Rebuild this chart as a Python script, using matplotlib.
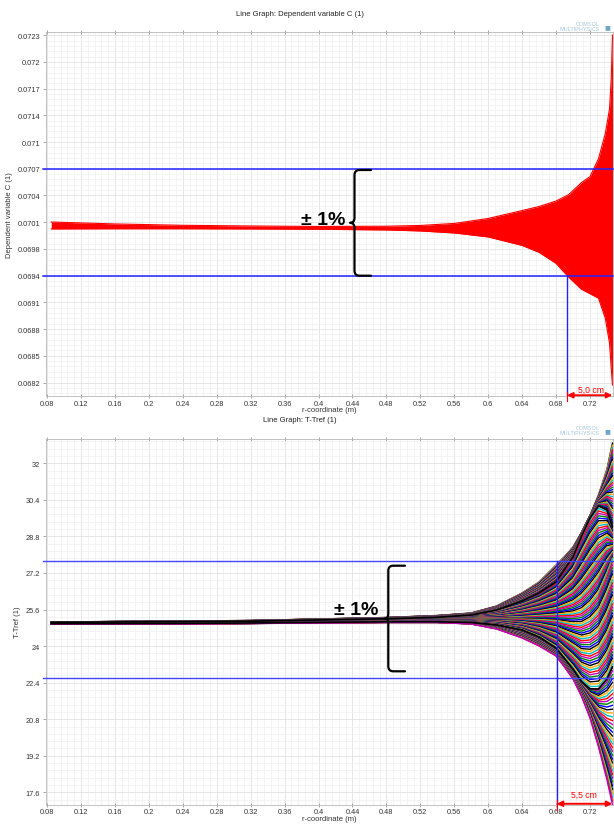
import numpy as np
import matplotlib
matplotlib.use("Agg")
import matplotlib.pyplot as plt
from matplotlib.path import Path
from matplotlib.patches import PathPatch
from matplotlib.ticker import FixedLocator, AutoMinorLocator
import matplotlib.transforms as mtransforms

W, H = 614, 828

# shared x axis
x_ticks = [0.08, 0.12, 0.16, 0.2, 0.24, 0.28, 0.32, 0.36, 0.4, 0.44, 0.48, 0.52, 0.56, 0.6, 0.64, 0.68, 0.72]
x_lim = (0.0782, 0.7471)

# top panel: envelope of the red bundle of C(r) curves
r_c = [0.085, 0.16, 0.24, 0.32, 0.40, 0.48, 0.52, 0.56, 0.60, 0.64, 0.66, 0.68, 0.695, 0.71,
       0.72, 0.73, 0.738, 0.743, 0.745, 0.7465]
c_upper = [0.070084, 0.070061, 0.070045, 0.070037, 0.070031, 0.070034, 0.070043, 0.070067,
           0.070126, 0.070220, 0.070268, 0.070333, 0.070410, 0.070552, 0.070623, 0.070835,
           0.071131, 0.071427, 0.071782, 0.072302]
c_lower = [0.070002, 0.070004, 0.070004, 0.070002, 0.069998, 0.069990, 0.069978, 0.069954,
           0.069907, 0.069806, 0.069724, 0.069593, 0.069428, 0.069286, 0.069233, 0.069180,
           0.068943, 0.068647, 0.068352, 0.068150]
c_tick_labels = ["0.0682", "0.0685", "0.0688", "0.0691", "0.0694", "0.0698", "0.0701",
                 "0.0704", "0.0707", "0.071", "0.0714", "0.0717", "0.072", "0.0723"]
c_tick_values = np.linspace(0.06818, 0.07230, len(c_tick_labels))
c_lim = (0.068020, 0.072338)
c_band = (0.069448, 0.070715)
c_cut_r = 0.6929

# bottom panel: T-Tref, key curves of the sweep bundle
r_t = [0.085, 0.16, 0.24, 0.32, 0.40, 0.48, 0.54, 0.58, 0.61, 0.64, 0.66, 0.68, 0.69,
       0.70, 0.71, 0.72, 0.73, 0.74, 0.7465]
t_upper = [25.055, 25.076, 25.098, 25.120, 25.186, 25.252, 25.339, 25.448, 25.755, 26.324,
           26.805, 27.549, 27.92, 28.337, 28.98, 29.72, 30.613, 31.750, 32.888]
t_arc_hi = [25.041, 25.055, 25.072, 25.090, 25.142, 25.195, 25.260, 25.361, 25.580, 25.974,
            26.324, 26.805, 27.35, 27.899, 28.80, 29.60, 30.131, 29.956, 29.212]
t_mid = [25.011, 25.020, 25.033, 25.055, 25.098, 25.142, 25.186, 25.208, 25.230, 25.273,
         25.317, 25.361, 25.38, 25.405, 25.50, 25.80, 26.280, 27.155, 27.812]
t_arc_lo = [24.980, 24.985, 24.993, 25.011, 25.037, 25.063, 25.063, 25.033, 24.923, 24.704,
            24.398, 23.917, 23.45, 22.998, 22.45, 22.13, 22.122, 22.560, 23.085]
t_lower = [24.967, 24.967, 24.967, 24.989, 25.011, 25.033, 25.033, 24.967, 24.748, 24.354,
           24.004, 23.567, 23.08, 22.560, 21.80, 20.85, 19.584, 18.140, 17.046]
t_tick_values = [17.6, 19.2, 20.8, 22.4, 24, 25.6, 27.2, 28.8, 30.4, 32]
t_lim = (17.068, 33.063)
t_band = (22.60, 27.71)
t_cut_r = 0.6808

comsol_colors = ["k", "#ffb000", "c", "r", "m", "g", "b"]
plt.rcParams["font.family"] = ["Liberation Sans", "DejaVu Sans"]


def px(x, y):
    """Pixel position (top-left origin) to figure fraction."""
    return x / W, 1 - y / H


def style_axes(ax, yticks, ylabels, ylim, ylabel):
    ax.set_xlim(*x_lim)
    ax.set_ylim(*ylim)
    ax.xaxis.set_major_locator(FixedLocator(x_ticks))
    ax.set_xticklabels([f"{v:g}" for v in x_ticks])
    ax.yaxis.set_major_locator(FixedLocator(yticks))
    ax.set_yticklabels(ylabels)
    ax.xaxis.set_minor_locator(AutoMinorLocator(5))
    ax.yaxis.set_minor_locator(AutoMinorLocator(5))
    ax.grid(which="major", color="#e2e2e2", lw=0.6)
    ax.grid(which="minor", color="#f0f0f0", lw=0.5)
    ax.set_axisbelow(True)
    ax.tick_params(which="major", length=2.5, width=0.6, color="#999999",
                   labelsize=5.3, labelcolor="#333333", pad=1.5)
    ax.tick_params(axis="x", which="major", top=True, direction="inout")
    ax.tick_params(which="minor", length=0)
    for s in ax.spines.values():
        s.set_color("#b8b8b8")
        s.set_linewidth(0.6)
    ax.set_xlabel("r-coordinate (m)", fontsize=5.5, color="#333333", labelpad=-0.5)
    ax.set_ylabel(ylabel, fontsize=5.5, color="#333333", labelpad=3)


def brace(fig, xv, xh, xtip, ytop, ybot, rad=5):
    ymid = (ytop + ybot) / 2
    pts = [(xh, ytop), (xv + rad, ytop), (xv, ytop), (xv, ytop + rad), (xv, ymid - rad),
           (xv, ymid), (xtip, ymid), (xv, ymid), (xv, ymid + rad), (xv, ybot - rad),
           (xv, ybot), (xv + rad, ybot), (xh, ybot)]
    codes = [Path.MOVETO, Path.LINETO, Path.CURVE3, Path.CURVE3, Path.LINETO, Path.CURVE3,
             Path.CURVE3, Path.CURVE3, Path.CURVE3, Path.LINETO, Path.CURVE3, Path.CURVE3,
             Path.LINETO]
    verts = [px(x, y) for x, y in pts]
    fig.add_artist(PathPatch(Path(verts, codes), transform=fig.transFigure, fill=False,
                             lw=1.6, edgecolor="k", capstyle="round", joinstyle="round"))


def distance_marker(ax, cut_r, band_low, label, text_r, text_y):
    trans = mtransforms.blended_transform_factory(ax.transData, ax.transAxes)
    ax.plot([cut_r, cut_r], [ax.get_ylim()[0], band_low], color="#2222ff", lw=1.0, zorder=5)
    ax.plot([cut_r, cut_r], [-0.015, 0.012], color="red", lw=0.8, transform=trans,
            clip_on=False, zorder=6)
    ax.annotate("", xy=(cut_r, 0.002), xytext=(x_lim[1] - 0.0008, 0.002),
                xycoords=trans, textcoords=trans, annotation_clip=False,
                arrowprops=dict(arrowstyle="<|-|>", color="red", lw=1.4,
                                mutation_scale=8, shrinkA=0, shrinkB=0), zorder=6)
    ax.text(text_r, text_y, label, transform=trans, color="red", fontsize=6.2,
            ha="center", va="center", zorder=6)


def logo(fig, y):
    fig.text(*px(600, y), "COMSOL\nMULTIPHYSICS", fontsize=4.0, color="#a9c8de",
             ha="right", va="center", linespacing=1.0)
    fig.text(*px(607, y), "\u25a0", fontsize=7, color="#6fa7cc", ha="center", va="center")


fig = plt.figure(figsize=(W / 100, H / 100), dpi=100)
ax1 = fig.add_axes([45.5 / W, 1 - 397 / H, (613 - 45.5) / W, 364 / H])
ax2 = fig.add_axes([45.5 / W, 1 - 805.5 / H, (613 - 45.5) / W, 365.5 / H])

# ---- top panel
style_axes(ax1, c_tick_values, c_tick_labels, c_lim, "Dependent variable C (1)")
ax1.fill_between(r_c, c_lower, c_upper, color="#ff0000", lw=0, zorder=3)
ax1.plot(r_c, c_upper, color="#ff0000", lw=0.8, zorder=3)
ax1.plot(r_c, c_lower, color="#ff0000", lw=0.8, zorder=3)
for v in c_band:
    ax1.axhline(v, xmin=-0.004, xmax=1, color="#2222ff", lw=1.1, clip_on=False, zorder=4)
distance_marker(ax1, c_cut_r, c_band[0], "5,0 cm", 0.7206, 0.018)

# ---- bottom panel
style_axes(ax2, t_tick_values, [f"{v:g}" for v in t_tick_values], t_lim, "T-Tref (1)")
keys = [np.array(k) for k in (t_upper, t_arc_hi, t_mid, t_arc_lo, t_lower)]
n_per_gap = 36
idx = 0
for a, b in zip(keys[:-1], keys[1:]):
    for w in np.linspace(0, 1, n_per_gap, endpoint=False):
        ax2.plot(r_t, a + w * (b - a), color=comsol_colors[idx % len(comsol_colors)],
                 lw=1.0, zorder=3)
        idx += 1
ax2.plot(r_t, t_lower, color=comsol_colors[idx % len(comsol_colors)], lw=1.0, zorder=3)
ax2.plot(r_t, t_arc_hi, color="k", lw=1.2, zorder=3)
ax2.plot(r_t, t_arc_lo, color="k", lw=1.2, zorder=3)
for v in t_band:
    ax2.axhline(v, xmin=-0.004, xmax=1, color="#4444ff", lw=1.0, clip_on=False, zorder=4)
distance_marker(ax2, t_cut_r, t_band[1], "5,5 cm", 0.713, 0.027)

# titles and logos
fig.text(*px(300, 15), "Line Graph: Dependent variable C (1)", fontsize=5.5,
         color="#222222", ha="center", va="center")
fig.text(*px(300, 421), "Line Graph: T-Tref (1)", fontsize=5.5,
         color="#222222", ha="center", va="center")
logo(fig, 27)
logo(fig, 431)

# +-1% annotations with curly braces
fig.text(*px(345, 225), "\u00b1 1%", fontsize=14, fontweight="bold", color="k",
         ha="right", va="baseline")
brace(fig, 354.5, 371, 350, 171, 276.7)
fig.text(*px(378, 615), "\u00b1 1%", fontsize=14, fontweight="bold", color="k",
         ha="right", va="baseline")
brace(fig, 388.3, 405, 385, 566.7, 672.3)

fig.savefig("out.png", dpi=100)
